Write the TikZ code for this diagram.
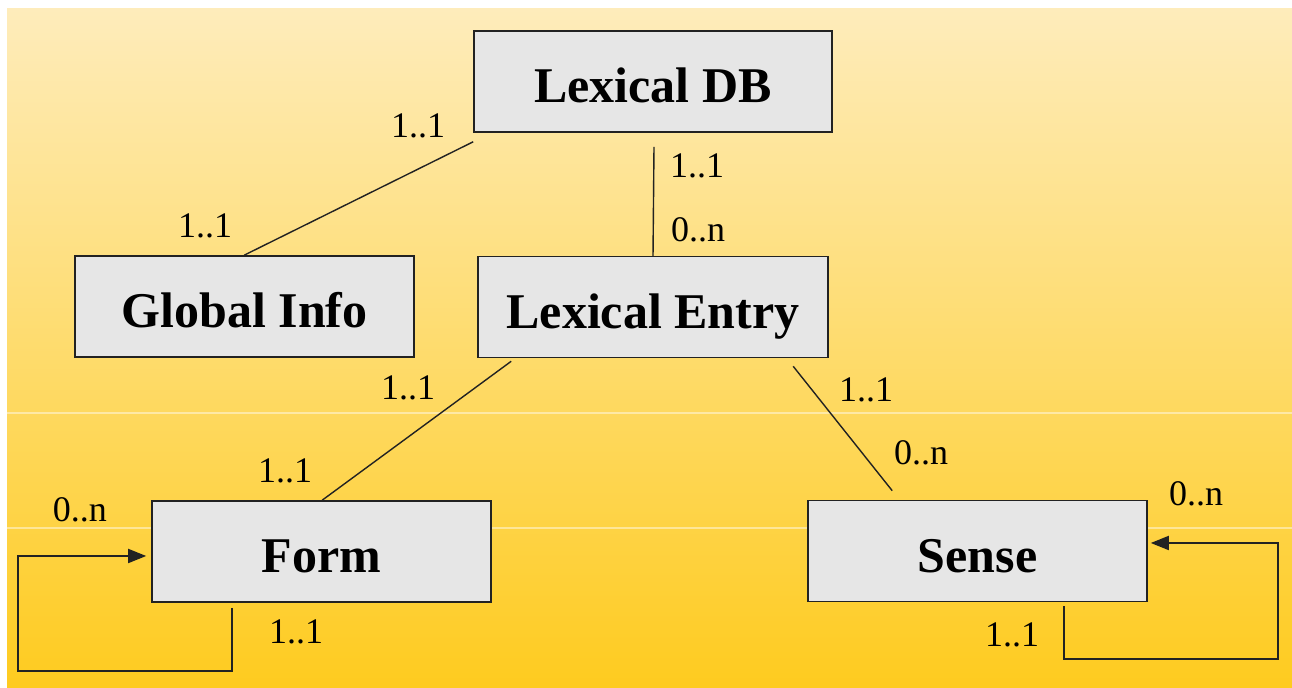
\documentclass[tikz,border=0pt]{standalone}
\usepackage{fontspec}
\setmainfont{Liberation Serif}
\usetikzlibrary{arrows.meta,calc}
\definecolor{bgtop}{HTML}{FEECBB}
\definecolor{bgmid}{HTML}{FDDB7E}
\definecolor{bgbot}{HTML}{FECB1F}
\definecolor{boxfill}{HTML}{E6E6E6}
\definecolor{ink}{HTML}{222222}
\begin{document}
\begin{tikzpicture}[x=0.5pt,y=-0.5pt,
  entity/.style={draw=ink,line width=0.8pt,fill=boxfill,inner sep=0pt,
    minimum height=50.5pt,text height=21.5pt,text depth=0pt,
    font=\fontsize{25}{29}\selectfont\bfseries},
  link/.style={draw=ink,line width=0.7pt},
  loop/.style={draw=ink,line width=0.9pt,-{Triangle[length=9pt,width=7pt]}},
  mult/.style={font=\fontsize{18}{20}\selectfont,inner sep=0pt}]
\useasboundingbox (0,0) rectangle (1292,688);
\shade[top color=bgtop,middle color=bgmid,bottom color=bgbot] (7,9) rectangle (1292,688);
\draw[white,opacity=0.45,line width=0.6pt] (7,413) -- (1292,413);
\draw[white,opacity=0.45,line width=0.6pt] (7,528) -- (1292,528);

\node[entity,minimum width=179pt] (db) at (653,81.5) {Lexical DB};
\node[entity,minimum width=169.5pt] (gi) at (244.5,306.5) {Global Info};
\node[entity,minimum width=175pt] (le) at (653,307) {Lexical Entry};
\node[entity,minimum width=169.5pt] (form) at (321.5,551.5) {Form};
\node[entity,minimum width=169.5pt] (sense) at (977.5,551) {Sense};

% connectors
\draw[link] ($(db.south west)+(0,9)$) -- ($(gi.north west)+(170,0)$);
\draw[link] ($(db.south)+(1,14)$) -- (le.north |- 0,257);
\draw[link] ($(le.south west)+(34,3)$) -- ($(form.north west)+(171,0)$);
\draw[link] ($(le.south west)+(316,8)$) -- ($(sense.north west)+(85,-9)$);

% self loops
\draw[loop] ($(form.south west)+(81,5)$) -- ++(0,63) -| (18,556) -- ($(form.west)+(-5,4.5)$);
\draw[loop] ($(sense.south west)+(257,4)$) -- ++(0,53) -| (1278,543) -- ($(sense.east)+(3,-8)$);

% multiplicities
\node[mult] (m1) at (418,126) {1..1};
\node[mult] (m2) at (205,226) {1..1};
\node[mult] (m3) at (697,166) {1..1};
\node[mult] (m4) at (698,230) {0..n};
\node[mult] (m5) at (408,388) {1..1};
\node[mult] (m6) at (285,471) {1..1};
\node[mult] (m7) at (866,390) {1..1};
\node[mult] (m8) at (921,453) {0..n};
\node[mult] (m9) at (80,510) {0..n};
\node[mult] (m10) at (296,632) {1..1};
\node[mult] (m11) at (1196,494) {0..n};
\node[mult] (m12) at (1012,635) {1..1};
\end{tikzpicture}
\end{document}
